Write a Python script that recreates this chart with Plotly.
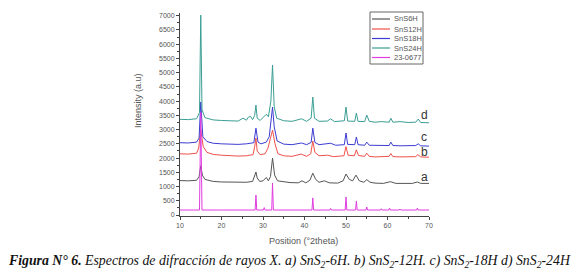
import plotly.graph_objects as go

# ---- data (2theta, intensity) ----
a_x = [10, 12, 14, 14.6, 15.0, 15.4, 16, 18, 20, 22, 24, 26, 27.5, 28.0, 28.3, 28.6, 29.2, 30.0, 30.8, 31.3, 31.8, 32.3, 32.8, 33.5, 35.0, 36.5, 38.5, 39.4, 40.3, 41.3, 42.0, 42.7, 43.5, 44.8, 46, 48, 49.3, 50.0, 50.8, 51.6, 52.4, 53.2, 54.3, 55.0, 55.8, 57, 59, 60.7, 62, 64, 66, 67.2, 68, 70]
a_y = [1210, 1200, 1220, 1350, 1730, 1400, 1250, 1180, 1160, 1150, 1140, 1150, 1180, 1350, 1510, 1300, 1180, 1200, 1320, 1200, 1350, 2000, 1400, 1200, 1160, 1140, 1130, 1200, 1130, 1220, 1470, 1250, 1150, 1200, 1130, 1120, 1200, 1440, 1250, 1200, 1400, 1200, 1150, 1240, 1150, 1120, 1110, 1170, 1110, 1110, 1110, 1160, 1110, 1110]

b_x = [10, 12, 14, 14.5, 15.0, 15.6, 16.5, 18, 20, 22, 24, 26, 27.6, 28.0, 28.3, 28.6, 29.3, 30.5, 31.2, 31.8, 32.3, 32.9, 33.6, 35, 37, 39.2, 40.5, 41.5, 42.0, 42.5, 43.5, 45.5, 47, 49.5, 50.0, 50.5, 52.0, 52.5, 53.0, 54.5, 55.0, 55.6, 57, 60.4, 60.8, 61.3, 63, 66.8, 67.3, 68, 70]
b_y = [2150, 2140, 2170, 2350, 3000, 2400, 2200, 2130, 2100, 2080, 2070, 2080, 2120, 2400, 2700, 2250, 2120, 2150, 2350, 2700, 2980, 2500, 2150, 2080, 2060, 2140, 2060, 2150, 2600, 2200, 2080, 2100, 2050, 2080, 2400, 2100, 2080, 2290, 2090, 2060, 2170, 2060, 2040, 2060, 2160, 2050, 2040, 2050, 2120, 2040, 2030]

c_x = [10, 12, 14, 14.6, 15.0, 15.5, 16.5, 18, 20, 22, 24, 26, 27.8, 28.3, 28.8, 29.5, 30.8, 31.5, 32.0, 32.3, 32.7, 33.4, 35, 37, 39.3, 40.5, 41.6, 42.0, 42.5, 43.5, 46.3, 47.5, 49.6, 50.0, 50.4, 52.1, 52.5, 52.9, 54.5, 55.0, 55.6, 57, 60.4, 60.8, 61.3, 63, 66.8, 67.4, 68, 70]
c_y = [2540, 2530, 2560, 2700, 3970, 2750, 2580, 2520, 2500, 2490, 2480, 2500, 2540, 3050, 2560, 2500, 2560, 2750, 3300, 3790, 3100, 2600, 2490, 2470, 2530, 2470, 2550, 3050, 2550, 2470, 2520, 2450, 2470, 2880, 2480, 2470, 2740, 2470, 2450, 2560, 2450, 2440, 2440, 2560, 2440, 2430, 2440, 2500, 2430, 2420]

d_x = [10, 12, 14, 14.7, 15.0, 15.3, 16, 18, 20, 22, 24, 25.2, 26.0, 26.5, 27.0, 27.5, 28.0, 28.3, 28.6, 29.3, 30.4, 30.8, 31.3, 31.9, 32.3, 32.7, 33.3, 35, 37, 39.3, 40.5, 41.6, 42.0, 42.4, 43.5, 45.5, 46.3, 47.2, 49.6, 50.0, 50.4, 52.1, 52.5, 52.9, 54.5, 55.0, 55.6, 57, 58.5, 60.4, 60.8, 61.3, 63, 65, 66.8, 67.4, 68, 70]
d_y = [3360, 3350, 3380, 3600, 7020, 3700, 3420, 3340, 3320, 3310, 3300, 3400, 3330, 3440, 3460, 3350, 3500, 3860, 3400, 3320, 3480, 3540, 3450, 4000, 5270, 3800, 3400, 3310, 3290, 3380, 3290, 3400, 4140, 3400, 3290, 3300, 3380, 3280, 3310, 3790, 3300, 3290, 3580, 3290, 3280, 3510, 3290, 3260, 3280, 3260, 3400, 3260, 3280, 3250, 3260, 3370, 3250, 3240]

r_x = [10, 14.7, 15.0, 15.3, 20, 28.1, 28.3, 28.5, 30.1, 30.3, 30.5, 32.1, 32.3, 32.5, 41.8, 42.0, 42.2, 46.1, 46.3, 46.5, 49.8, 50.0, 50.2, 52.3, 52.5, 52.7, 54.8, 55.0, 55.2, 58.3, 58.5, 58.7, 60.3, 60.5, 60.7, 62.8, 63.0, 63.2, 67.0, 67.2, 67.4, 70]
r_y = [175, 175, 3600, 175, 175, 175, 700, 175, 175, 260, 175, 175, 1120, 175, 175, 600, 175, 175, 230, 175, 175, 630, 175, 175, 490, 175, 175, 280, 175, 175, 220, 175, 175, 240, 175, 175, 210, 175, 175, 240, 175, 175]

series_names = ["SnS6H", "SnS12H", "SnS18H", "SnS24H", "23-0677"]
series_x = [a_x, b_x, c_x, d_x, r_x]
series_y = [a_y, b_y, c_y, d_y, r_y]
series_colors = ["#555555", "#f0504a", "#3c3cd2", "#3a9e94", "#e03ce0"]

curve_labels = ["a", "b", "c", "d"]
label_x = [68.8, 68.8, 68.8, 68.8]
label_y = [1330, 2210, 2740, 3510]

x_ticks = [10, 20, 30, 40, 50, 60, 70]
y_ticks = list(range(0, 7001, 500))

fig = go.Figure()
for name, xs, ys, col in zip(series_names, series_x, series_y, series_colors):
    fig.add_trace(go.Scatter(x=xs, y=ys, mode="lines", name=name,
                             line=dict(color=col, width=1), showlegend=False))

# plot area geometry (pixels) for paper conversions
L, R, T, B = 180, 429, 13, 216
W, H = 577, 272
def px(xp):
    return (xp - L) / (R - L)
def py(yp):
    return (B - yp) / (B - T)

shapes = []
annotations = []

# manual legend
shapes.append(dict(type="rect", xref="paper", yref="paper",
                   x0=px(370), x1=px(423), y0=py(12), y1=py(64),
                   line=dict(color="#666666", width=1), fillcolor="white"))
leg_y = [19, 29, 38.5, 48, 57.5]
for name, col, yy in zip(series_names, series_colors, leg_y):
    shapes.append(dict(type="line", xref="paper", yref="paper",
                       x0=px(372), x1=px(390), y0=py(yy), y1=py(yy),
                       line=dict(color=col, width=1.2)))
    annotations.append(dict(text=name, xref="paper", yref="paper",
                            x=px(392), y=py(yy), xanchor="left", yanchor="middle",
                            showarrow=False,
                            font=dict(family="Liberation Sans, Arial", size=7.5, color="#555555")))

for t, xx, yy in zip(curve_labels, label_x, label_y):
    annotations.append(dict(text=t, x=xx, y=yy, xref="x", yref="y",
                            xanchor="center", yanchor="middle", showarrow=False,
                            font=dict(family="Liberation Sans, Arial", size=12, color="#333333")))

annotations.append(dict(text="Intensity (a.u)", xref="paper", yref="paper",
                        x=px(138), y=py(101), textangle=-90, showarrow=False,
                        xanchor="center", yanchor="middle",
                        font=dict(family="Liberation Sans, Arial", size=9, color="#555555")))
annotations.append(dict(text="Position (°2theta)", xref="paper", yref="paper",
                        x=px(303), y=py(241), showarrow=False,
                        xanchor="center", yanchor="middle",
                        font=dict(family="Liberation Sans, Arial", size=9, color="#555555")))
annotations.append(dict(
    text="<b><i>Figura N° 6.</i></b><i> Espectros de difracción de rayos X. a) SnS<sub>2</sub>-6H. b) SnS<sub>2</sub>-12H. c) SnS<sub>2</sub>-18H d) SnS<sub>2</sub>-24H</i>",
    xref="paper", yref="paper", x=px(289), y=py(261), showarrow=False,
    xanchor="center", yanchor="middle",
    font=dict(family="Liberation Serif, DejaVu Serif, serif", size=13.8, color="#111111")))

fig.update_layout(
    width=W, height=H,
    margin=dict(l=L, r=W - R, t=T, b=H - B, pad=0),
    paper_bgcolor="white", plot_bgcolor="white",
    shapes=shapes, annotations=annotations,
    showlegend=False,
    xaxis=dict(range=[10, 70], tickvals=x_ticks, ticktext=[str(v) for v in x_ticks],
               showline=True, linecolor="#444444", linewidth=1, mirror=False,
               ticks="outside", ticklen=3, tickcolor="#444444",
               minor=dict(dtick=5, ticks="outside", ticklen=2, tickcolor="#444444"),
               showgrid=False, zeroline=False,
               tickfont=dict(family="Liberation Sans, Arial", size=7, color="#555555")),
    yaxis=dict(range=[-35, 7095], tickvals=y_ticks, ticktext=[str(v) for v in y_ticks],
               showline=True, linecolor="#444444", linewidth=1, mirror=False,
               ticks="outside", ticklen=3, tickcolor="#444444",
               minor=dict(tick0=250, dtick=500, ticks="outside", ticklen=2, tickcolor="#444444"),
               showgrid=False, zeroline=False,
               tickfont=dict(family="Liberation Sans, Arial", size=7, color="#555555")),
)

fig.write_html("out.html", config={"displayModeBar": False},
               post_script="document.body.style.margin='0';")
